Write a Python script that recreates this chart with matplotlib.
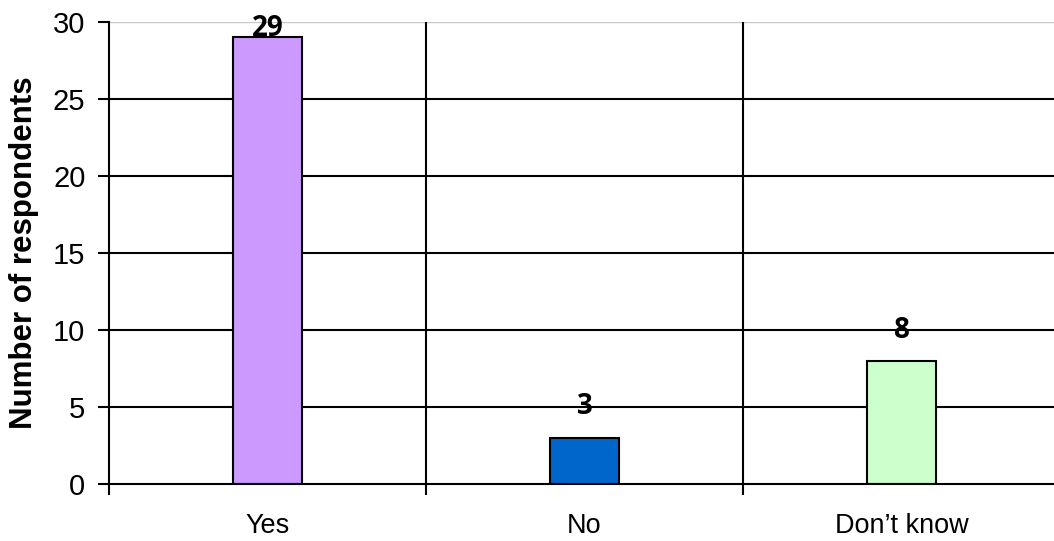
import matplotlib
matplotlib.use("Agg")
import matplotlib.pyplot as plt
import numpy as np

categories = ["Yes", "No", "Don\u2019t know"]
values = [29, 3, 8]
colors = ["#CC99FF", "#0066CC", "#CCFFCC"]
yticks = [0, 5, 10, 15, 20, 25, 30]

plt.rcParams['font.family'] = ['Liberation Sans', 'DejaVu Sans']

fig = plt.figure(figsize=(10.54, 5.41), dpi=100)
ax = fig.add_axes([109/1054, 57/541, 951/1054, 462/541])

x = np.arange(len(categories))
ax.bar(x, values, width=0.22, color=colors, edgecolor="black", linewidth=1.5, zorder=3)

ax.set_xlim(-0.5, len(categories) - 0.5)
ax.set_ylim(0, 30)

# horizontal grid lines
for t in yticks[1:-1]:
    ax.axhline(t, color="black", linewidth=1.5, zorder=1)
ax.axhline(yticks[-1], color="#c8c8c8", linewidth=1, zorder=1)
# vertical separators
for b in np.arange(0.5, len(categories) - 0.5, 1.0):
    ax.axvline(b, color="black", linewidth=1.5, zorder=1)

ax.set_yticks(yticks)
ax.set_xticks(x)
ax.set_xticklabels(categories)
ax.set_xticks(np.arange(-0.5, len(categories) + 0.5, 1.0), minor=True)
ax.tick_params(axis="x", which="major", length=0, pad=21, labelsize=19.5)
ax.tick_params(axis="x", which="minor", length=8, width=1.5, direction="out")
ax.tick_params(axis="y", length=8, width=1.5, direction="out", labelsize=21, pad=9)

for s in ["top", "right"]:
    ax.spines[s].set_visible(False)
for s in ["left", "bottom"]:
    ax.spines[s].set_linewidth(1.5)
    ax.spines[s].set_zorder(4)

for xi, v in zip(x, values):
    ax.text(xi, min(v + 2, 29.6), str(v), ha="center", va="center",
            fontsize=20, fontweight="bold", family=["Open Sans", "DejaVu Sans"], zorder=5)

ax.set_ylabel("Number of respondents", fontsize=22.5, fontweight="bold", labelpad=10)

fig.savefig("out.png", dpi=100)
